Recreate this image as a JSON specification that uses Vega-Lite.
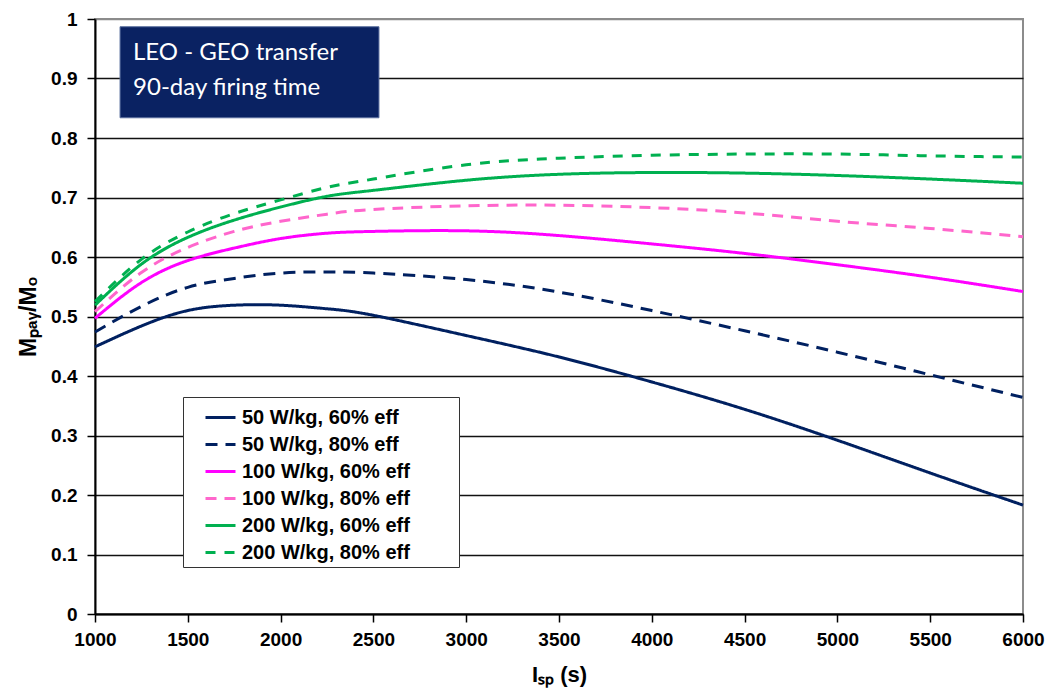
{
  "$schema": "https://vega.github.io/schema/vega-lite/v6.json",
  "width": 928,
  "height": 595,
  "autosize": {"type": "none"},
  "padding": {"left": 95, "top": 19, "right": 30, "bottom": 84},
  "background": "white",
  "config": {
    "view": {"stroke": "#8c8c8c", "strokeWidth": 2},
    "font": "Liberation Sans"
  },
  "datasets": {
    "curves": [
      {"isp": 1000, "r": 0.449, "s": "50 W/kg, 60% eff"},
      {"isp": 1250, "r": 0.484, "s": "50 W/kg, 60% eff"},
      {"isp": 1500, "r": 0.510, "s": "50 W/kg, 60% eff"},
      {"isp": 1750, "r": 0.519, "s": "50 W/kg, 60% eff"},
      {"isp": 2000, "r": 0.519, "s": "50 W/kg, 60% eff"},
      {"isp": 2250, "r": 0.513, "s": "50 W/kg, 60% eff"},
      {"isp": 2500, "r": 0.502, "s": "50 W/kg, 60% eff"},
      {"isp": 3000, "r": 0.468, "s": "50 W/kg, 60% eff"},
      {"isp": 3500, "r": 0.432, "s": "50 W/kg, 60% eff"},
      {"isp": 4000, "r": 0.390, "s": "50 W/kg, 60% eff"},
      {"isp": 4500, "r": 0.344, "s": "50 W/kg, 60% eff"},
      {"isp": 5000, "r": 0.292, "s": "50 W/kg, 60% eff"},
      {"isp": 5500, "r": 0.237, "s": "50 W/kg, 60% eff"},
      {"isp": 6000, "r": 0.183, "s": "50 W/kg, 60% eff"},

      {"isp": 1000, "r": 0.474, "s": "50 W/kg, 80% eff"},
      {"isp": 1250, "r": 0.517, "s": "50 W/kg, 80% eff"},
      {"isp": 1500, "r": 0.549, "s": "50 W/kg, 80% eff"},
      {"isp": 1750, "r": 0.564, "s": "50 W/kg, 80% eff"},
      {"isp": 2000, "r": 0.573, "s": "50 W/kg, 80% eff"},
      {"isp": 2250, "r": 0.575, "s": "50 W/kg, 80% eff"},
      {"isp": 2500, "r": 0.573, "s": "50 W/kg, 80% eff"},
      {"isp": 3000, "r": 0.562, "s": "50 W/kg, 80% eff"},
      {"isp": 3500, "r": 0.541, "s": "50 W/kg, 80% eff"},
      {"isp": 4000, "r": 0.510, "s": "50 W/kg, 80% eff"},
      {"isp": 4500, "r": 0.476, "s": "50 W/kg, 80% eff"},
      {"isp": 5000, "r": 0.440, "s": "50 W/kg, 80% eff"},
      {"isp": 5500, "r": 0.402, "s": "50 W/kg, 80% eff"},
      {"isp": 6000, "r": 0.364, "s": "50 W/kg, 80% eff"},

      {"isp": 1000, "r": 0.497, "s": "100 W/kg, 60% eff"},
      {"isp": 1250, "r": 0.557, "s": "100 W/kg, 60% eff"},
      {"isp": 1500, "r": 0.594, "s": "100 W/kg, 60% eff"},
      {"isp": 1750, "r": 0.615, "s": "100 W/kg, 60% eff"},
      {"isp": 2000, "r": 0.631, "s": "100 W/kg, 60% eff"},
      {"isp": 2250, "r": 0.640, "s": "100 W/kg, 60% eff"},
      {"isp": 2500, "r": 0.643, "s": "100 W/kg, 60% eff"},
      {"isp": 3000, "r": 0.644, "s": "100 W/kg, 60% eff"},
      {"isp": 3500, "r": 0.636, "s": "100 W/kg, 60% eff"},
      {"isp": 4000, "r": 0.622, "s": "100 W/kg, 60% eff"},
      {"isp": 4500, "r": 0.606, "s": "100 W/kg, 60% eff"},
      {"isp": 5000, "r": 0.587, "s": "100 W/kg, 60% eff"},
      {"isp": 5500, "r": 0.566, "s": "100 W/kg, 60% eff"},
      {"isp": 6000, "r": 0.542, "s": "100 W/kg, 60% eff"},

      {"isp": 1000, "r": 0.508, "s": "100 W/kg, 80% eff"},
      {"isp": 1250, "r": 0.574, "s": "100 W/kg, 80% eff"},
      {"isp": 1500, "r": 0.616, "s": "100 W/kg, 80% eff"},
      {"isp": 1750, "r": 0.643, "s": "100 W/kg, 80% eff"},
      {"isp": 2000, "r": 0.660, "s": "100 W/kg, 80% eff"},
      {"isp": 2250, "r": 0.672, "s": "100 W/kg, 80% eff"},
      {"isp": 2500, "r": 0.680, "s": "100 W/kg, 80% eff"},
      {"isp": 3000, "r": 0.686, "s": "100 W/kg, 80% eff"},
      {"isp": 3500, "r": 0.687, "s": "100 W/kg, 80% eff"},
      {"isp": 4000, "r": 0.683, "s": "100 W/kg, 80% eff"},
      {"isp": 4500, "r": 0.674, "s": "100 W/kg, 80% eff"},
      {"isp": 5000, "r": 0.660, "s": "100 W/kg, 80% eff"},
      {"isp": 5500, "r": 0.648, "s": "100 W/kg, 80% eff"},
      {"isp": 6000, "r": 0.634, "s": "100 W/kg, 80% eff"},

      {"isp": 1000, "r": 0.519, "s": "200 W/kg, 60% eff"},
      {"isp": 1250, "r": 0.588, "s": "200 W/kg, 60% eff"},
      {"isp": 1500, "r": 0.633, "s": "200 W/kg, 60% eff"},
      {"isp": 1750, "r": 0.662, "s": "200 W/kg, 60% eff"},
      {"isp": 2000, "r": 0.684, "s": "200 W/kg, 60% eff"},
      {"isp": 2250, "r": 0.702, "s": "200 W/kg, 60% eff"},
      {"isp": 2500, "r": 0.712, "s": "200 W/kg, 60% eff"},
      {"isp": 3000, "r": 0.729, "s": "200 W/kg, 60% eff"},
      {"isp": 3500, "r": 0.739, "s": "200 W/kg, 60% eff"},
      {"isp": 4000, "r": 0.742, "s": "200 W/kg, 60% eff"},
      {"isp": 4500, "r": 0.741, "s": "200 W/kg, 60% eff"},
      {"isp": 5000, "r": 0.737, "s": "200 W/kg, 60% eff"},
      {"isp": 5500, "r": 0.731, "s": "200 W/kg, 60% eff"},
      {"isp": 6000, "r": 0.724, "s": "200 W/kg, 60% eff"},

      {"isp": 1000, "r": 0.525, "s": "200 W/kg, 80% eff"},
      {"isp": 1250, "r": 0.596, "s": "200 W/kg, 80% eff"},
      {"isp": 1500, "r": 0.642, "s": "200 W/kg, 80% eff"},
      {"isp": 1750, "r": 0.673, "s": "200 W/kg, 80% eff"},
      {"isp": 2000, "r": 0.696, "s": "200 W/kg, 80% eff"},
      {"isp": 2250, "r": 0.717, "s": "200 W/kg, 80% eff"},
      {"isp": 2500, "r": 0.731, "s": "200 W/kg, 80% eff"},
      {"isp": 3000, "r": 0.755, "s": "200 W/kg, 80% eff"},
      {"isp": 3500, "r": 0.766, "s": "200 W/kg, 80% eff"},
      {"isp": 4000, "r": 0.771, "s": "200 W/kg, 80% eff"},
      {"isp": 4500, "r": 0.773, "s": "200 W/kg, 80% eff"},
      {"isp": 5000, "r": 0.773, "s": "200 W/kg, 80% eff"},
      {"isp": 5500, "r": 0.770, "s": "200 W/kg, 80% eff"},
      {"isp": 6000, "r": 0.768, "s": "200 W/kg, 80% eff"}
    ],
    "box": [
      {"x1": 1135, "x2": 2530, "y1": 0.987, "y2": 0.834, "lines": ["LEO - GEO transfer", "90-day firing time"], "tx": 1205, "ty": 0.931}
    ]
  },
  "encoding": {
    "x": {
      "field": "isp", "type": "quantitative",
      "scale": {"domain": [1000, 6000], "nice": false, "zero": false},
      "axis": {
        "title": "Iₛₚ (s)",
        "values": [1000, 1500, 2000, 2500, 3000, 3500, 4000, 4500, 5000, 5500, 6000],
        "format": "d",
        "grid": false,
        "domainColor": "#000000", "domainWidth": 2,
        "tickColor": "#000000", "tickWidth": 1.5, "tickSize": 8,
        "labelFont": "Liberation Sans", "labelFontSize": 19, "labelFontWeight": "bold", "labelColor": "#000000",
        "labelPadding": 8, "labelFlush": false,
        "titleFont": "Liberation Sans", "titleFontSize": 22, "titleFontWeight": "bold", "titleColor": "#000000",
        "titlePadding": 15
      }
    },
    "y": {
      "field": "r", "type": "quantitative",
      "scale": {"domain": [0, 1], "nice": false},
      "axis": {
        "title": "Mₚₐᵧ/Mₒ",
        "values": [0, 0.1, 0.2, 0.3, 0.4, 0.5, 0.6, 0.7, 0.8, 0.9, 1],
        "format": "~g",
        "grid": true,
        "gridColor": {"condition": {"test": "datum.value >= 1", "value": "#8c8c8c"}, "value": "#111111"},
        "gridWidth": 1.5,
        "domainColor": "#000000", "domainWidth": 2,
        "tickColor": "#000000", "tickWidth": 1.5, "tickSize": 8,
        "labelFont": "Liberation Sans", "labelFontSize": 19, "labelFontWeight": "bold", "labelColor": "#000000",
        "labelPadding": 10,
        "titleFont": "Liberation Sans", "titleFontSize": 23, "titleFontWeight": "bold", "titleColor": "#000000",
        "titlePadding": 10
      }
    }
  },
  "layer": [
    {
      "data": {"name": "box"},
      "mark": {"type": "rect", "fill": "#0a2262", "stroke": "#5a6f9e", "strokeWidth": 1},
      "encoding": {
        "x": {"field": "x1", "type": "quantitative"},
        "x2": {"field": "x2"},
        "y": {"field": "y1", "type": "quantitative"},
        "y2": {"field": "y2"}
      }
    },
    {
      "data": {"name": "box"},
      "mark": {"type": "text", "align": "left", "baseline": "alphabetic", "font": "Lato", "fontSize": 24, "color": "#ffffff", "lineHeight": 35},
      "encoding": {
        "x": {"field": "tx", "type": "quantitative"},
        "y": {"field": "ty", "type": "quantitative"},
        "text": {"field": "lines"}
      }
    },
    {
      "data": {"name": "curves"},
      "mark": {"type": "line", "strokeWidth": 3, "interpolate": "natural"},
      "encoding": {
        "color": {
          "field": "s", "type": "nominal",
          "scale": {
            "domain": ["50 W/kg, 60% eff", "50 W/kg, 80% eff", "100 W/kg, 60% eff", "100 W/kg, 80% eff", "200 W/kg, 60% eff", "200 W/kg, 80% eff"],
            "range": ["#002060", "#002060", "#ff00ff", "#ff66cc", "#00b050", "#00b050"]
          },
          "legend": {
            "title": null,
            "orient": "none",
            "legendX": 88,
            "legendY": 378,
            "direction": "vertical",
            "padding": 4,
            "symbolOffset": 17,
            "rowPadding": -2,
            "labelOffset": 5,
            "strokeColor": "#333333",
            "fillColor": "#ffffff",
            "symbolType": "stroke",
            "symbolSize": 900,
            "symbolStrokeWidth": 3,
            "labelFont": "Liberation Sans",
            "labelFontWeight": "bold",
            "labelFontSize": 20,
            "labelColor": "#000000",
            "labelLimit": 400,
            "labelExpr": "datum.label + '\u2800\u2800\u2800'"
          }
        },
        "strokeDash": {
          "field": "s", "type": "nominal",
          "scale": {
            "domain": ["50 W/kg, 60% eff", "50 W/kg, 80% eff", "100 W/kg, 60% eff", "100 W/kg, 80% eff", "200 W/kg, 60% eff", "200 W/kg, 80% eff"],
            "range": [[1, 0], [12, 8], [1, 0], [11, 8], [1, 0], [10, 9]]
          },
          "legend": null
        }
      }
    }
  ]
}
